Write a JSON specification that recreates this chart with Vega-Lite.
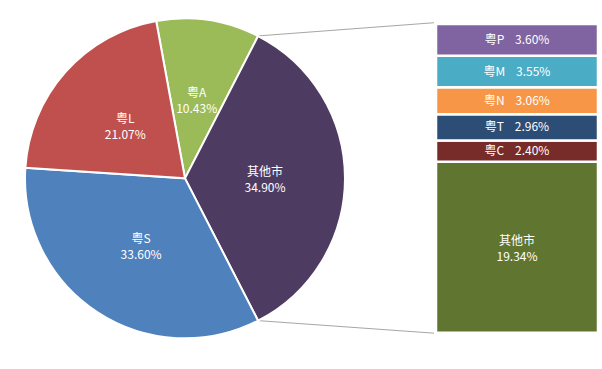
{
  "$schema": "https://vega.github.io/schema/vega-lite/v6.json",
  "width": 602,
  "height": 369,
  "padding": 0,
  "autosize": {"type": "fit", "contains": "padding"},
  "background": "white",
  "config": {"view": {"stroke": null}, "text": {"font": "Noto Sans CJK SC", "fontSize": 12}},
  "datasets": {
    "pie": [
      {"name": "粤A", "share": 0.1043, "ord": 1},
      {"name": "其他市", "share": 0.349, "ord": 2},
      {"name": "粤S", "share": 0.336, "ord": 3},
      {"name": "粤L", "share": 0.2107, "ord": 4}
    ],
    "bar": [
      {"name": "其他市", "share": 0.1934, "ord": 1},
      {"name": "粤C", "share": 0.024, "ord": 2},
      {"name": "粤T", "share": 0.0296, "ord": 3},
      {"name": "粤N", "share": 0.0306, "ord": 4},
      {"name": "粤M", "share": 0.0355, "ord": 5},
      {"name": "粤P", "share": 0.036, "ord": 6}
    ]
  },
  "layer": [
    {
      "data": {"values": [{}]},
      "mark": {"type": "rule", "color": "#A6A6A6", "strokeWidth": 1},
      "encoding": {
        "x": {"datum": 258.1, "type": "quantitative", "scale": {"domain": [0, 602], "nice": false, "zero": false}, "axis": null},
        "y": {"datum": 0.3356, "type": "quantitative", "scale": {"domain": [-0.041, 0.3762], "nice": false, "zero": false}, "axis": null},
        "x2": {"datum": 434},
        "y2": {"datum": 0.3505}
      }
    },
    {
      "data": {"values": [{}]},
      "mark": {"type": "rule", "color": "#A6A6A6", "strokeWidth": 1},
      "encoding": {
        "x": {"datum": 258.1, "type": "quantitative", "scale": {"domain": [0, 602], "nice": false, "zero": false}, "axis": null},
        "y": {"datum": 0.0137, "type": "quantitative", "scale": {"domain": [-0.041, 0.3762], "nice": false, "zero": false}, "axis": null},
        "x2": {"datum": 434},
        "y2": {"datum": -0.0005}
      }
    },
    {
      "data": {"name": "pie"},
      "transform": [
        {"calculate": "datum.name + '\\n' + format(datum.share, '.2%')", "as": "lbl"}
      ],
      "encoding": {
        "theta": {"field": "share", "type": "quantitative", "stack": true, "scale": {"range": [-0.181, 6.1022]}},
        "order": {"field": "ord", "type": "quantitative", "sort": "ascending"},
        "x": {"datum": 185, "type": "quantitative", "scale": {"domain": [0, 602], "nice": false, "zero": false}, "axis": null},
        "y": {"datum": 0.17455, "type": "quantitative", "scale": {"domain": [-0.041, 0.3762], "nice": false, "zero": false}, "axis": null}
      },
      "layer": [
        {
          "mark": {"type": "arc", "outerRadius": 160, "stroke": "white", "strokeWidth": 2},
          "encoding": {
            "color": {
              "field": "name",
              "type": "nominal",
              "scale": {"domain": ["粤A", "其他市", "粤S", "粤L"], "range": ["#9BBB59", "#4E3B62", "#4F81BD", "#C0504D"]},
              "legend": null
            }
          }
        },
        {
          "mark": {"type": "text", "radius": 80, "dy": -6, "lineBreak": "\n", "lineHeight": 16, "fill": "white", "align": "center", "baseline": "middle"},
          "encoding": {"text": {"field": "lbl", "type": "nominal"}}
        }
      ]
    },
    {
      "data": {"name": "bar"},
      "transform": [
        {"stack": "share", "groupby": [], "sort": [{"field": "ord", "order": "ascending"}], "as": ["s0", "s1"]},
        {"calculate": "(datum.s0 + datum.s1) / 2", "as": "mid"}
      ],
      "layer": [
        {
          "mark": {"type": "bar", "stroke": "white", "strokeWidth": 2.5},
          "encoding": {
            "x": {"datum": 436, "type": "quantitative", "scale": {"domain": [0, 602], "nice": false, "zero": false}, "axis": null},
            "x2": {"datum": 598},
            "y": {"field": "s0", "type": "quantitative", "scale": {"domain": [-0.041, 0.3762], "nice": false, "zero": false}, "axis": null},
            "y2": {"field": "s1"},
            "color": {
              "field": "name",
              "type": "nominal",
              "scale": {"domain": ["粤P", "粤M", "粤N", "粤T", "粤C", "其他市"], "range": ["#8064A2", "#4BACC6", "#F79646", "#2C4D75", "#772C2A", "#5F7530"]},
              "legend": null
            }
          }
        },
        {
          "transform": [
            {"filter": "datum.name != '其他市'"},
            {"calculate": "datum.name + '\u00a0\u00a0\u00a0\u00a0' + format(datum.share, '.2%')", "as": "lbl"}
          ],
          "mark": {"type": "text", "fill": "white", "align": "center", "baseline": "middle"},
          "encoding": {
            "x": {"datum": 517, "type": "quantitative", "scale": {"domain": [0, 602], "nice": false, "zero": false}, "axis": null},
            "y": {"field": "mid", "type": "quantitative", "scale": {"domain": [-0.041, 0.3762], "nice": false, "zero": false}, "axis": null},
            "text": {"field": "lbl", "type": "nominal"}
          }
        },
        {
          "transform": [
            {"filter": "datum.name == '其他市'"},
            {"calculate": "datum.name + '\\n' + format(datum.share, '.2%')", "as": "lbl"}
          ],
          "mark": {"type": "text", "dy": -6, "lineBreak": "\n", "lineHeight": 16, "fill": "white", "align": "center", "baseline": "middle"},
          "encoding": {
            "x": {"datum": 517, "type": "quantitative", "scale": {"domain": [0, 602], "nice": false, "zero": false}, "axis": null},
            "y": {"field": "mid", "type": "quantitative", "scale": {"domain": [-0.041, 0.3762], "nice": false, "zero": false}, "axis": null},
            "text": {"field": "lbl", "type": "nominal"}
          }
        }
      ]
    }
  ],
  "resolve": {"scale": {"color": "independent"}}
}
